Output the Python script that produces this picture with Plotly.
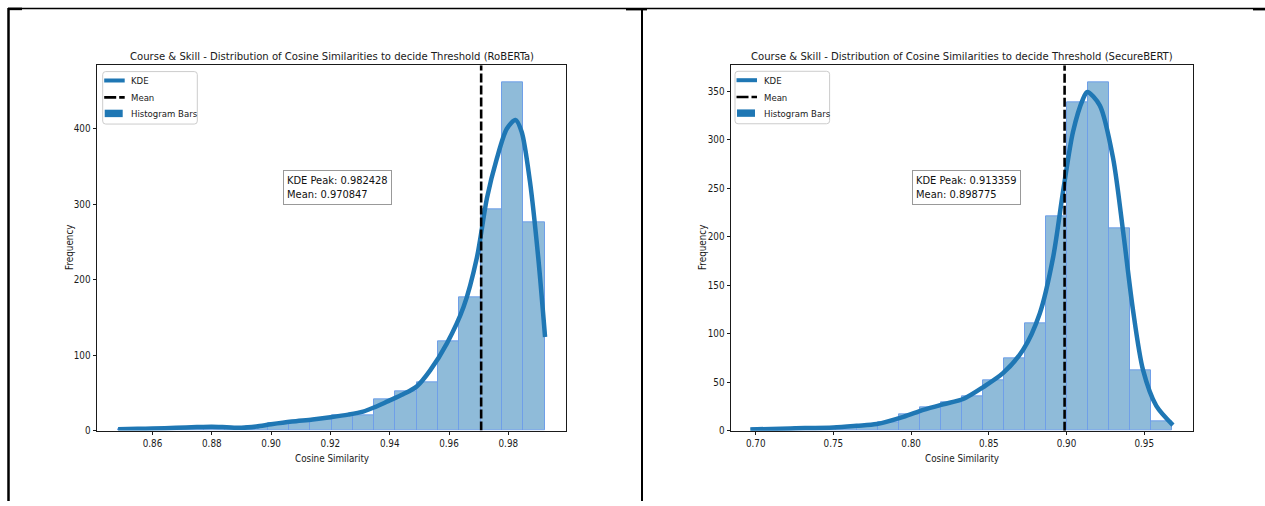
import numpy as np
import plotly.graph_objects as go

# ---------------- data ----------------
# RoBERTa: histogram (20 bins) of cosine similarities
roberta_counts = [2, 3, 3, 4, 5, 4, 5, 9, 12, 15, 20, 20, 41, 52, 64, 118, 177, 293, 461, 276]
roberta_bin_range = [0.84847, 0.99227]
roberta_kde_x = [0.8484, 0.855, 0.860, 0.868, 0.875, 0.880, 0.885, 0.890, 0.895, 0.900,
                 0.907, 0.914, 0.920, 0.926, 0.931, 0.935, 0.9395, 0.9445, 0.9492, 0.9537,
                 0.9593, 0.9649, 0.9694, 0.9728, 0.9761, 0.9795, 0.982428, 0.9845, 0.9873,
                 0.9901, 0.9924]
roberta_kde_y = [1.8, 2.2, 2.6, 3.6, 4.6, 5.0, 4.3, 3.6, 5.2, 8.2,
                 11.8, 14.5, 17.5, 21, 25, 31, 39, 48, 58.7, 80,
                 115.5, 163.6, 229, 308, 360, 400, 411.5, 396, 330,
                 229, 124]
roberta_mean = 0.970847
roberta_peak = 0.982428

# SecureBERT: histogram (20 bins) of cosine similarities
securebert_counts = [2, 2, 3, 3, 5, 6, 9, 17, 24, 29, 35, 52, 75, 111, 221, 339, 359, 209, 62, 10]
securebert_bin_range = [0.6976, 0.9679]
securebert_kde_x = [0.6965, 0.7222, 0.75, 0.765, 0.7779, 0.795, 0.8078, 0.8207, 0.8335, 0.8464,
                    0.8593, 0.8721, 0.8828, 0.8914, 0.8978, 0.9042, 0.9107, 0.913359, 0.9214,
                    0.93, 0.9364, 0.9428, 0.9492, 0.9578, 0.9685]
securebert_kde_y = [1.3, 2.4, 3.4, 5.1, 6.9, 14.3, 21.5, 27.3, 32.7, 45,
                    59.6, 83.5, 121, 179, 247, 308.5, 342.5, 349.5, 335.7,
                    281, 206, 124.4, 63, 25.6, 5.8]
securebert_mean = 0.898775
securebert_peak = 0.913359

roberta_xticks = [0.86, 0.88, 0.90, 0.92, 0.94, 0.96, 0.98]
roberta_yticks = [0, 100, 200, 300, 400]
securebert_xticks = [0.70, 0.75, 0.80, 0.85, 0.90, 0.95]
securebert_yticks = [0, 50, 100, 150, 200, 250, 300, 350]

legend_labels = ["KDE", "Mean", "Histogram Bars"]

# ---------------- styling ----------------
W, H = 1265, 506
FONT = "DejaVu Sans Condensed, DejaVu Sans, sans-serif"
BLUE = "#1f77b4"
BAR_FILL = "rgba(31,119,180,0.5)"
BAR_EDGE = "#6f9fe8"
INK = "#1a1a1a"


def px(x):
    return x / W


def py(y):
    return 1 - y / H


def rounded_box(x0, y0, x1, y1, r):
    """SVG path (paper coords) for a rectangle with rounded corners."""
    X0, X1, Xa, Xb = px(x0), px(x1), px(x0 + r), px(x1 - r)
    Y0, Y1, Ya, Yb = py(y0), py(y1), py(y0 + r), py(y1 - r)
    return (f"M{Xa},{Y0} L{Xb},{Y0} Q{X1},{Y0} {X1},{Ya} L{X1},{Yb} Q{X1},{Y1} {Xb},{Y1} "
            f"L{Xa},{Y1} Q{X0},{Y1} {X0},{Yb} L{X0},{Ya} Q{X0},{Y0} {Xa},{Y0} Z")


fig = go.Figure()

panels = [
    dict(suffix="", counts=roberta_counts, rng=roberta_bin_range,
         kx=roberta_kde_x, ky=roberta_kde_y, mean=roberta_mean, peak=roberta_peak,
         xticks=roberta_xticks, yticks=roberta_yticks,
         title="Course & Skill - Distribution of Cosine Similarities to decide Threshold (RoBERTa)",
         box=(97, 566, 66, 434.8), legend_pos=(102.7, 72.3), note_pos=(283, 172), ylab_x=70),
    dict(suffix="2", counts=securebert_counts, rng=securebert_bin_range,
         kx=securebert_kde_x, ky=securebert_kde_y, mean=securebert_mean, peak=securebert_peak,
         xticks=securebert_xticks, yticks=securebert_yticks,
         title="Course & Skill - Distribution of Cosine Similarities to decide Threshold (SecureBERT)",
         box=(731, 1193, 66, 435), legend_pos=(735, 72), note_pos=(912, 172), ylab_x=702),
]

annotations = []
shapes = []
for p in panels:
    xa, ya = "x" + p["suffix"], "y" + p["suffix"]
    counts = np.array(p["counts"], dtype=float)
    edges = np.linspace(p["rng"][0], p["rng"][1], len(counts) + 1)
    centers = (edges[:-1] + edges[1:]) / 2
    bw = edges[1] - edges[0]
    ymax = counts.max() * 1.05
    span = p["rng"][1] - p["rng"][0]
    xr = [p["rng"][0] - 0.05 * span, p["rng"][1] + 0.05 * span]

    # histogram bars
    fig.add_trace(go.Bar(x=centers, y=counts, width=bw, xaxis=xa, yaxis=ya,
                         marker=dict(color=BAR_FILL, line=dict(color=BAR_EDGE, width=1)),
                         showlegend=False, hoverinfo="skip"))
    # KDE curve
    fig.add_trace(go.Scatter(x=p["kx"], y=p["ky"], mode="lines", name="KDE", showlegend=False,
                             line=dict(color=BLUE, width=4.5, shape="spline", smoothing=0.8),
                             xaxis=xa, yaxis=ya))
    # mean line
    fig.add_trace(go.Scatter(x=[p["mean"], p["mean"]], y=[0, ymax], mode="lines", name="Mean",
                             showlegend=False, line=dict(color="black", width=2.6, dash="9px,3px"),
                             xaxis=xa, yaxis=ya))

    x0, x1, y0, y1 = p["box"]
    axis_common = dict(showline=True, mirror=True, linecolor=INK, linewidth=1,
                       ticks="outside", ticklen=3.5, tickcolor=INK, showgrid=False,
                       zeroline=False, tickfont=dict(family=FONT, size=9.8, color=INK))
    fig.layout["xaxis" + p["suffix"]] = dict(domain=[px(x0), px(x1)], range=xr, anchor=ya,
                                             tickvals=p["xticks"], tickformat=".2f", **axis_common)
    fig.layout["yaxis" + p["suffix"]] = dict(domain=[py(y1), py(y0)], range=[0, ymax], anchor=xa,
                                             tickvals=p["yticks"], **axis_common)

    cx = (x0 + x1) / 2
    annotations.append(dict(x=px(cx), y=py(57), xref="paper", yref="paper", text=p["title"],
                            showarrow=False, xanchor="center", yanchor="middle",
                            font=dict(family=FONT, size=11.2, color=INK)))
    annotations.append(dict(x=px(cx), y=py(463), xref="paper", yref="paper",
                            text="Cosine Similarity", showarrow=False, xanchor="center",
                            yanchor="middle", font=dict(family=FONT, size=9.8, color=INK)))
    annotations.append(dict(x=px(p["ylab_x"]), y=py((y0 + y1) / 2), xref="paper", yref="paper",
                            text="Frequency", textangle=-90, showarrow=False, xanchor="center",
                            yanchor="middle", font=dict(family=FONT, size=9.8, color=INK)))
    nx, ny = p["note_pos"]
    annotations.append(dict(x=px(nx), y=py(ny), xref="paper", yref="paper",
                            text=f"KDE Peak: {p['peak']:.6f}<br>Mean: {p['mean']:.6f}",
                            showarrow=False, xanchor="left", yanchor="top", align="left",
                            bgcolor="white", bordercolor="#999999", borderwidth=1, borderpad=3,
                            font=dict(family=FONT, size=11, color="#111")))

    # compact legend box in the upper-left corner of the axes
    lx, ly = p["legend_pos"]
    shapes.append(dict(type="path", xref="paper", yref="paper",
                       path=rounded_box(lx, ly, lx + 94.6, ly + 53, 3),
                       fillcolor="rgba(255,255,255,0.85)", line=dict(color="#cccccc", width=1)))
    shapes.append(dict(type="line", xref="paper", yref="paper",
                       x0=px(lx + 1.5), x1=px(lx + 22), y0=py(ly + 9), y1=py(ly + 9),
                       line=dict(color=BLUE, width=4)))
    shapes.append(dict(type="line", xref="paper", yref="paper",
                       x0=px(lx + 1.5), x1=px(lx + 22), y0=py(ly + 26), y1=py(ly + 26),
                       line=dict(color="black", width=2.6, dash="12px,3px")))
    shapes.append(dict(type="rect", xref="paper", yref="paper",
                       x0=px(lx + 2), x1=px(lx + 20), y0=py(ly + 38.5), y1=py(ly + 46),
                       fillcolor=BLUE, line=dict(width=0)))
    for label, dy in zip(legend_labels, [9, 26, 42.5]):
        annotations.append(dict(x=px(lx + 26.5), y=py(ly + dy), xref="paper", yref="paper",
                                text=label, showarrow=False, xanchor="left", yanchor="middle",
                                font=dict(family=FONT, size=9.5, color=INK)))

# page borders around the two figure cells
border = [
    (8, 8.5, 1265, 8.5, 1.5),
    (8.5, 8, 8.5, 506, 2.5),
    (8, 9, 22, 9, 2.5),
    (642, 9, 642, 506, 2),
    (626, 9.5, 647, 9.5, 2),
    (1253, 9.5, 1265, 9.5, 2),
]
shapes += [dict(type="line", xref="paper", yref="paper", x0=px(a), y0=py(b), x1=px(c), y1=py(d),
                line=dict(color="black", width=w)) for a, b, c, d, w in border]

fig.update_layout(width=W, height=H, margin=dict(l=0, r=0, t=0, b=0),
                  paper_bgcolor="white", plot_bgcolor="white", bargap=0, barmode="overlay",
                  annotations=annotations, shapes=shapes, showlegend=False,
                  font=dict(family=FONT, color=INK))

fig.write_html("out.html")
